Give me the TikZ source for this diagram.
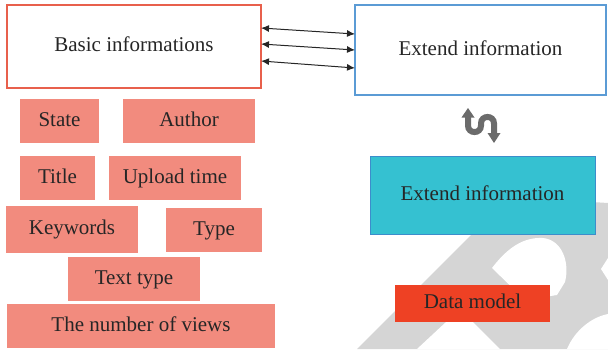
\documentclass[tikz,border=0pt]{standalone}
\usepackage{fontspec}
\setmainfont{Liberation Serif}
\usetikzlibrary{arrows.meta}

\definecolor{inkdark}{HTML}{262626}
\definecolor{redline}{HTML}{E8604C}
\definecolor{blueline}{HTML}{5B9BD5}
\definecolor{cyanfill}{HTML}{35C1D1}
\definecolor{cyanline}{HTML}{3C8DCB}
\definecolor{salmon}{HTML}{F28B7E}
\definecolor{modelred}{HTML}{EE4124}
\definecolor{iconGray}{HTML}{6B6B6B}
\definecolor{markGray}{HTML}{D5D5D5}

\tikzset{
  label text/.style={font=\fontsize{21}{25}\selectfont, text=inkdark,
    text height=15pt, text depth=5pt, inner sep=0pt, outer sep=0pt},
  infobox/.style={label text, draw=redline, line width=1.1pt, fill=white},
  extbox/.style={label text, draw=blueline, line width=1.1pt, fill=white},
  cyanbox/.style={label text, draw=cyanline, line width=1pt, fill=cyanfill},
  attr/.style={label text, fill=salmon},
  modelbox/.style={label text, fill=modelred},
  link/.style={{Latex[length=8pt,width=7pt]}-{Latex[length=8pt,width=7pt]},
    line width=1pt, draw=inkdark},
  icon/.style={iconGray},
}

\begin{document}
\begin{tikzpicture}[x=1pt,y=-1pt]
\useasboundingbox (0,0) rectangle (608,349);

% light grey background mark
\fill[markGray] (357,349) -- (475,231) -- (560,200) -- (608,203) -- (608,349) -- cycle;
\fill[white] (417,349) -- (460,309) -- (500,349) -- cycle;
\fill[white] (492,268) .. controls (508,247) and (524,237) .. (543,238)
  .. controls (562,240) and (570,262) .. (565,282) -- (557,295) -- (525,300) -- cycle;
\fill[white] (567,349) .. controls (575,330) and (592,317) .. (608,314) -- (608,349) -- cycle;
\fill[white] (608,258) -- (601,269) -- (608,280) -- cycle;

% main boxes
\node[infobox, minimum width=254pt, minimum height=83pt] (basic) at (134,46.5) {Basic informations};
\node[extbox, minimum width=251pt, minimum height=90pt] (ext) at (480.5,50) {Extend information};
\node[cyanbox, minimum width=225pt, minimum height=78pt] (extb) at (482.5,195) {Extend information};

% attribute boxes
\node[attr, minimum width=79pt, minimum height=44pt] (state) at (59.5,121) {State};
\node[attr, minimum width=132pt, minimum height=44pt] (author) at (189,121) {Author};
\node[attr, minimum width=75pt, minimum height=44pt] (title) at (57.5,178) {Title};
\node[attr, minimum width=132pt, minimum height=44pt] (upload) at (175,178) {Upload time};
\node[attr, minimum width=132pt, minimum height=47pt] (keywords) at (72,229.5) {Keywords};
\node[attr, minimum width=96pt, minimum height=44pt] (type) at (214,230) {Type};
\node[attr, minimum width=132pt, minimum height=44pt] (texttype) at (134,279) {Text type};
\node[attr, minimum width=268pt, minimum height=44pt] (views) at (141,326) {The number of views};

% data model label
\node[modelbox, minimum width=155pt, minimum height=37pt] (model) at (472.5,303.5) {Data model};

% links between basic and extended information
\draw[link] ([yshift=-23pt]basic.north east) -- ([yshift=-29pt]ext.north west);
\draw[link] ([yshift=-39pt]basic.north east) -- ([yshift=-45pt]ext.north west);
\draw[link] ([yshift=-56pt]basic.north east) -- ([yshift=-63pt]ext.north west);

% exchange icon between the two extend boxes
\draw[icon, line width=6pt] (468,116) -- (468,125.5)
  .. controls (468,134.2) and (481,134.2) .. (481,125.5) -- (481,123.5)
  .. controls (481,114.8) and (494,114.8) .. (494,123.5) -- (494,134);
\fill[icon] (461.5,117.5) -- (468,108) -- (474.5,117.5) -- cycle;
\fill[icon] (487.5,133) -- (494,143) -- (500.5,133) -- cycle;
\end{tikzpicture}
\end{document}
